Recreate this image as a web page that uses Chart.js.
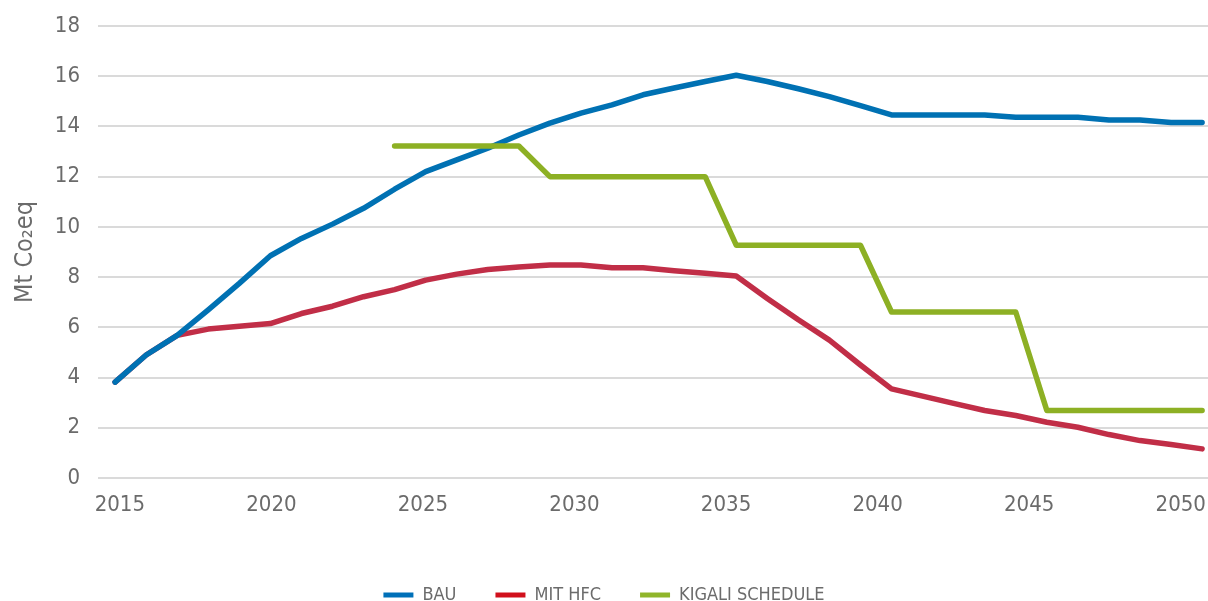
<!DOCTYPE html>
<html>
<head>
<meta charset="utf-8">
<script src="https://cdn.jsdelivr.net/npm/chart.js@4/dist/chart.umd.min.js"></script>
<style>
  html, body { margin:0; padding:0; background:#fff; }
  #wrap { width:1208px; height:601px; }
</style>
</head>
<body>
<div id="wrap"><canvas id="chart"></canvas></div>
<script>
// HFC emissions scenarios, Mt CO2eq
const years = [2015,2016,2017,2018,2019,2020,2021,2022,2023,2024,2025,2026,2027,2028,2029,2030,2031,2032,
  2033,2034,2035,2036,2037,2038,2039,2040,2041,2042,2043,2044,2045,2046,2047,2048,2049,2050];
const bau = [3.82,4.9,5.68,6.7,7.75,8.85,9.54,10.11,10.74,11.5,12.2,12.67,13.13,13.66,14.13,14.53,14.86,15.26,
  15.53,15.79,16.04,15.79,15.5,15.19,14.83,14.46,14.46,14.46,14.46,14.37,14.37,14.37,14.26,14.26,14.16,14.16];
const mitHfc = [3.82,4.9,5.68,5.93,6.04,6.15,6.55,6.84,7.22,7.5,7.88,8.12,8.3,8.4,8.48,8.48,8.37,8.37,
  8.25,8.15,8.04,7.15,6.3,5.49,4.5,3.55,3.26,2.97,2.69,2.49,2.22,2.02,1.73,1.49,1.33,1.16];
const kigali = [null,null,null,null,null,null,null,null,null,13.22,13.22,13.22,13.22,13.22,12,12,12,12,
  12,12,9.27,9.27,9.27,9.27,9.27,6.61,6.61,6.61,6.61,6.61,2.69,2.69,2.69,2.69,2.69,2.69];
const tickYears = [2015,2020,2025,2030,2035,2040,2045,2050];
const yTicks = [0,2,4,6,8,10,12,14,16,18];

const seriesNames = ['BAU','MIT HFC','KIGALI SCHEDULE'];
const lineColors = ['#0071b3','#c12e47','#8db024'];
const legendColors = ['#0070b8','#d1101c','#90b52b'];

const FONT = "'Liberation Sans Narrow', 'DejaVu Sans Condensed', 'Roboto', sans-serif";
const grey = '#6b6b6b';
const clear = 'rgba(0,0,0,0)';

const toPts = arr => arr.map((v,i) => ({x: years[i], y: v}));

const datasets = [bau, mitHfc, kigali].map((arr,i) => ({
  label: seriesNames[i],
  data: toPts(arr),
  borderColor: lineColors[i],
  backgroundColor: legendColors[i],
  borderWidth: 5.5,
  borderCapStyle: 'round',
  borderJoinStyle: 'round',
  pointRadius: 0,
  tension: 0,
  spanGaps: false,
  xAxisID: 'x',
  order: i === 2 ? 0 : 1
}));

new Chart(document.getElementById('chart'), {
  type: 'line',
  data: { datasets },
  options: {
    responsive: true,
    maintainAspectRatio: false,
    animation: false,
    layout: { padding: { top: 26, left: 0, right: 0, bottom: -13 } },
    plugins: {
      tooltip: { enabled: false },
      legend: {
        position: 'bottom',
        labels: {
          color: grey,
          font: { family: FONT, size: 18 },
          boxWidth: 30,
          boxHeight: 5,
          padding: 39,
          generateLabels: (chart) => chart.data.datasets.map((d,i) => ({
            text: d.label,
            fillStyle: legendColors[i],
            strokeStyle: legendColors[i],
            lineWidth: 0,
            datasetIndex: i,
            fontColor: grey
          }))
        }
      }
    },
    scales: {
      x: {
        type: 'linear',
        display: false,
        min: 2014.45,
        max: 2050.19
      },
      xl: {
        type: 'linear',
        position: 'bottom',
        min: 2014.28,
        max: 2050.9,
        afterBuildTicks: s => { s.ticks = tickYears.map(v => ({value: v})); },
        afterFit: s => { s.height = 69; },
        grid: { display: true, drawOnChartArea: false, drawTicks: true, tickLength: 14, color: clear },
        border: { display: false },
        ticks: {
          color: grey,
          font: { family: FONT, size: 22 },
          padding: 0,
          maxRotation: 0,
          autoSkip: false,
          callback: v => String(v)
        }
      },
      y: {
        min: 0,
        max: 18,
        afterBuildTicks: s => { s.ticks = yTicks.map(v => ({value: v})); },
        afterFit: s => { s.width = 98; },
        grid: { color: '#dadada', lineWidth: 2, drawTicks: true, tickLength: 16, tickColor: clear },
        border: { display: false },
        ticks: {
          color: grey,
          font: { family: FONT, size: 22 },
          padding: 2
        },
        title: {
          display: true,
          text: 'Mt Co\u2082eq',
          color: grey,
          font: { family: FONT, size: 25 },
          padding: { top: 10, bottom: 0 }
        }
      }
    }
  }
});
</script>
</body>
</html>
